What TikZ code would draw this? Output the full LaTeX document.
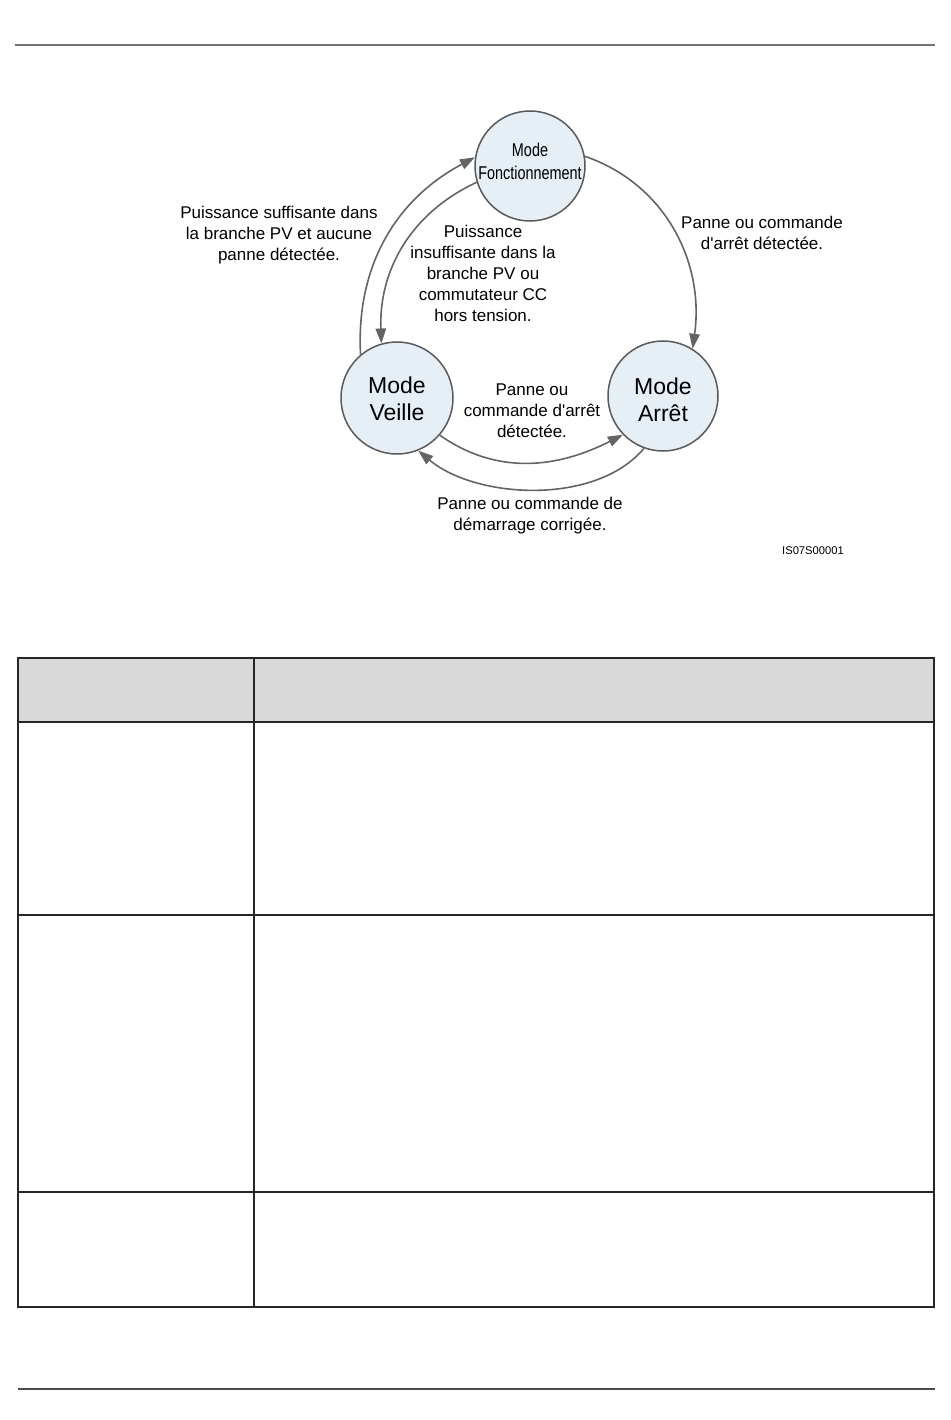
\documentclass[tikz,border=0pt]{standalone}
\usepackage{fontspec}
\setmainfont{Liberation Sans}[Ligatures=TeXOff]
\newfontfamily\narrowfont{Liberation Sans}[FakeStretch=0.78,Ligatures=TeXOff]
\usetikzlibrary{arrows.meta}
\definecolor{circfill}{HTML}{E6EEF6}
\definecolor{circline}{HTML}{5A5A5A}
\definecolor{arrcol}{HTML}{646464}
\definecolor{hdrfill}{HTML}{D9D9D9}
\tikzset{
  modecirc/.style={circle, draw=circline, line width=1.5pt, fill=circfill, minimum size=110pt, inner sep=0pt},
  modetxt/.style={align=center, inner sep=0pt, font=\fontsize{23}{27}\selectfont},
  trans/.style={draw=arrcol, line width=1.6pt, -{Triangle[length=15pt,width=10.5pt]}},
  lbl/.style={align=center, font=\fontsize{17}{21}\selectfont, inner sep=0pt},
  tbl/.style={draw=black!85, line width=1.3pt},
}
\begin{document}
\begin{tikzpicture}[x=1pt,y=-1pt]
\useasboundingbox (0,0) rectangle (950,1420);
% page rules
\draw[draw=black!55, line width=1.4pt] (15,45) -- (935,45);
\draw[draw=black!70, line width=1.4pt] (18,1389) -- (935,1389);
% states
\node[modecirc] (fonc) at (530,166) {};
\node[modecirc, minimum size=112pt] (veille) at (397,398) {};
\node[modecirc] (arret) at (663,396) {};
\node[modetxt, font=\narrowfont\fontsize{18.5}{23}\selectfont] (fonctxt) at (fonc.center) [yshift=5pt] {Mode\\Fonctionnement};
\node[modetxt] (veilletxt) at (veille.center) [yshift=-1pt] {Mode\\Veille};
\node[modetxt] (arrettxt) at (arret.center) [yshift=-4pt] {Mode\\Arrêt};
% transitions
\draw[trans] (veille.130) to[out=93,in=208] (fonc.171);
\draw[trans] (fonc.197) to[out=205,in=92] (veille.106);
\draw[trans] (fonc.10) to[out=-19,in=82] (arret.58);
\draw[trans] (veille.-41) to[out=-35,in=207] (arret.224);
\draw[trans] (arret.250) to[out=230,in=-40,looseness=0.85] (veille.292);
% labels
\node[lbl] (l1) at (279,235) {Puissance suffisante dans\\la branche PV et aucune\\panne détectée.};
\node[lbl] (l2) at (483,273) {Puissance\\insuffisante dans la\\branche PV ou\\commutateur CC\\hors tension.};
\node[lbl] (l3) at (762,232.5) {Panne ou commande\\d'arrêt détectée.};
\node[lbl] (l4) at (532,411) {Panne ou\\commande d'arrêt\\détectée.};
\node[lbl] (l5) at (530,515.5) {Panne ou commande de\\démarrage corrigée.};
\node[inner sep=0pt, font=\fontsize{11.2}{13}\selectfont] (code) at (813,551) {IS07S00001};
% table
\fill[hdrfill] (18,658) rectangle (934,722);
\draw[tbl] (18,658) rectangle (934,1307);
\draw[tbl, line width=1.8pt] (18,722) -- (934,722);
\draw[tbl] (18,915) -- (934,915);
\draw[tbl] (18,1192) -- (934,1192);
\draw[tbl] (254,658) -- (254,1307);
\end{tikzpicture}
\end{document}
